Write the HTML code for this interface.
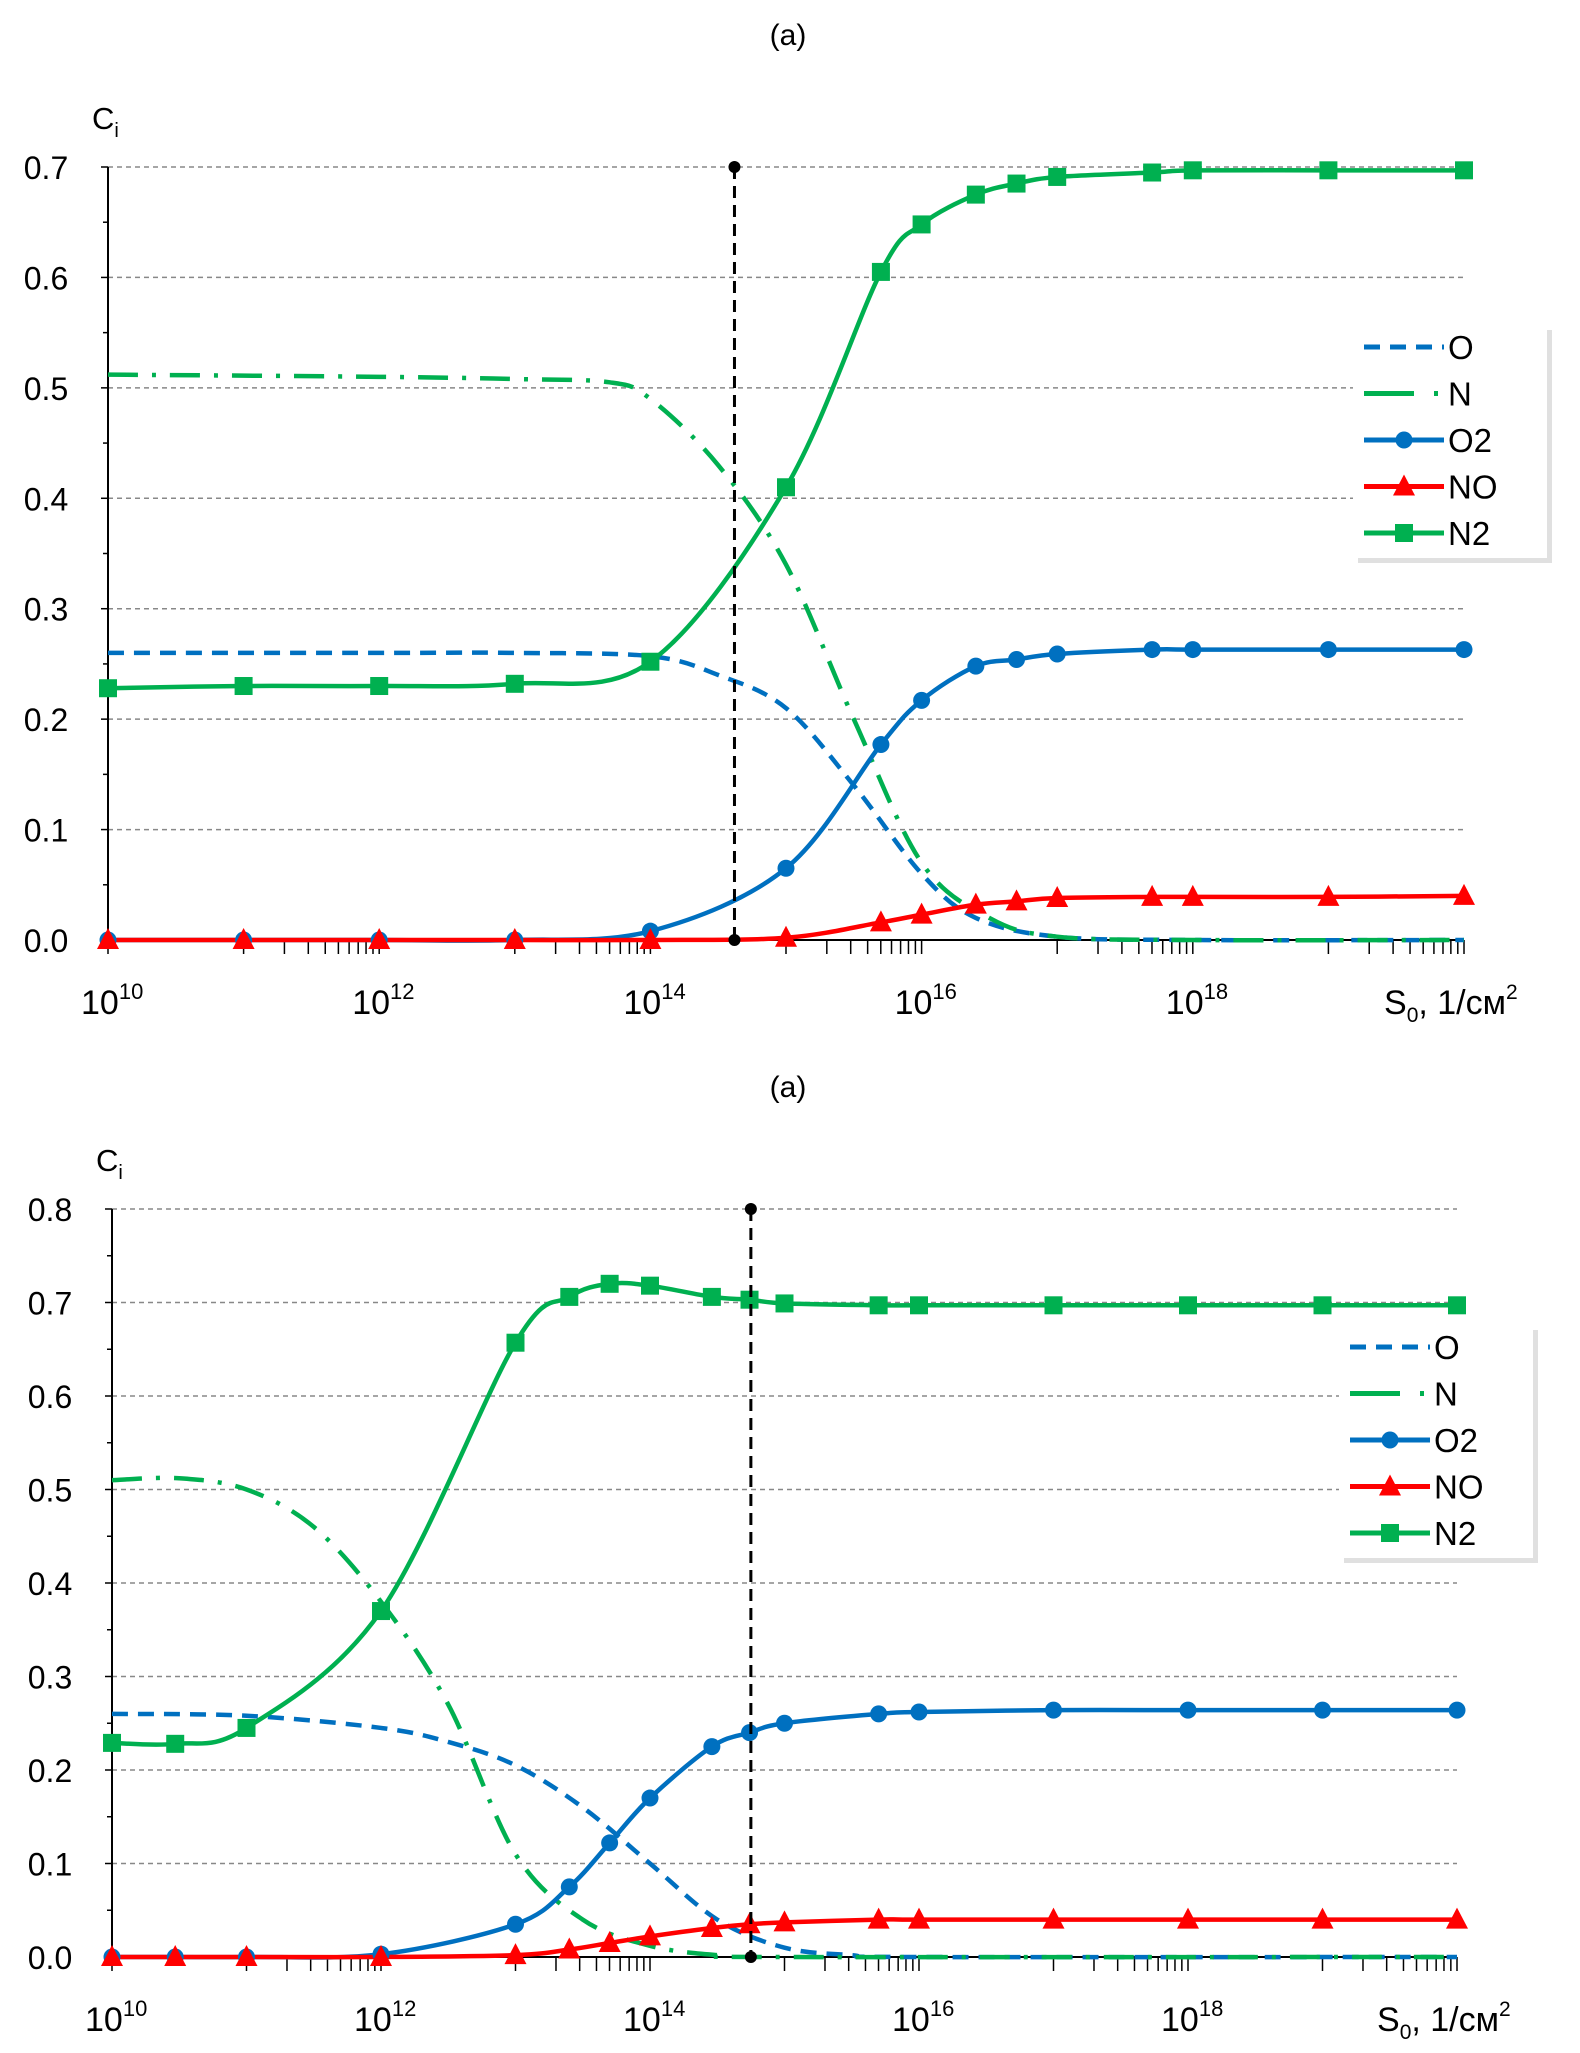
<!DOCTYPE html>
<html><head><meta charset="utf-8"><style>
body{margin:0;background:#fff}
svg{display:block;font-family:"Liberation Sans","DejaVu Sans",sans-serif}
</style></head><body>
<svg id="svg" width="1580" height="2053" viewBox="0 0 1580 2053"></svg>
<script>
// ---- Chart 1 data ----
const c1X = [10,11,12,13,14,15,15.7,16,16.4,16.7,17,17.7,18,19,20];
const c1N2 = [0.228,0.23,0.23,0.232,0.252,0.41,0.605,0.648,0.675,0.685,0.691,0.695,0.697,0.697,0.697];
const c1O2 = [0,0,0,0,0.008,0.065,0.177,0.217,0.248,0.254,0.259,0.263,0.263,0.263,0.263];
const c1NO = [0,0,0,0,0,0.002,0.016,0.023,0.032,0.035,0.038,0.039,0.039,0.039,0.04];
const c1OX = [10,12,13,14,14.5,15,15.5,16,16.4,17,18,20];
const c1O = [0.26,0.26,0.26,0.257,0.24,0.21,0.14,0.06,0.02,0.003,0,0];
const c1NX = [10,12,13,13.7,14,14.5,15,15.5,16,16.5,17,18,20];
const c1N = [0.512,0.51,0.508,0.505,0.49,0.43,0.34,0.2,0.07,0.02,0.003,0,0];
const c1Ticks = ["0.0","0.1","0.2","0.3","0.4","0.5","0.6","0.7"];
const c1Mark = 14.62;
// ---- Chart 2 data ----
const c2X = [10,10.47,11,12,13,13.4,13.7,14,14.46,14.74,15,15.7,16,17,18,19,20];
const c2N2 = [0.229,0.228,0.245,0.37,0.657,0.706,0.72,0.718,0.706,0.703,0.699,0.697,0.697,0.697,0.697,0.697,0.697];
const c2O2 = [0,0,0,0.003,0.035,0.075,0.122,0.17,0.225,0.24,0.25,0.26,0.262,0.264,0.264,0.264,0.264];
const c2NO = [0,0,0,0,0.002,0.008,0.015,0.022,0.031,0.035,0.037,0.04,0.04,0.04,0.04,0.04,0.04];
const c2OX = [10,11,12,12.5,13,13.5,14,14.5,15,15.5,16,20];
const c2O = [0.26,0.258,0.245,0.23,0.205,0.16,0.1,0.04,0.01,0.002,0,0];
const c2NX = [10,10.5,11,11.5,12,12.5,13,13.5,14,14.5,15,20];
const c2N = [0.51,0.512,0.5,0.46,0.38,0.27,0.11,0.04,0.012,0.002,0,0];
const c2Ticks = ["0.0","0.1","0.2","0.3","0.4","0.5","0.6","0.7","0.8"];
const c2Mark = 14.75;

const NS="http://www.w3.org/2000/svg";
const svg=document.getElementById('svg');
function mk(t,a,p){const e=document.createElementNS(NS,t);for(const k in a)e.setAttribute(k,a[k]);(p||svg).appendChild(e);return e;}
const BLUE="#0070C0",GREEN="#00B050",RED="#FF0000";

function path(pts){
  let d="M"+pts[0][0]+","+pts[0][1];
  for(let i=0;i<pts.length-1;i++){
    const p0=pts[i-1]||pts[i],p1=pts[i],p2=pts[i+1],p3=pts[i+2]||p2;
    const c1=[p1[0]+(p2[0]-p0[0])/6,p1[1]+(p2[1]-p0[1])/6];
    const c2=[p2[0]-(p3[0]-p1[0])/6,p2[1]-(p3[1]-p1[1])/6];
    d+=" C"+c1+" "+c2+" "+p2;
  }
  return d;
}
function marker(g,type,x,y,col){
  let e;
  if(type==='c'){e=mk('circle',{cx:x,cy:y,r:8.5,fill:col},g);}
  else if(type==='s'){e=mk('rect',{x:x-9,y:y-9,width:18,height:18,fill:col},g);}
  else {e=mk('polygon',{points:`${x},${y-12} ${x-11},${y+9} ${x+11},${y+9}`,fill:col},g);}
  return e;
}

function chart(o){
  const g=mk('g',{});
  
  
  const X=v=>o.x0+(v-10)*(o.x1-o.x0)/10;
  const Y=v=>o.y0-v*(o.y0-o.yTop)/o.ymax;
  const t=mk('text',{x:788,y:o.titleY,'font-size':30,'text-anchor':'middle',fill:'#000'},g);
  t.textContent='(a)';
  
  const yl=mk('text',{x:o.x0-16,y:o.yTop-38,'font-size':31,fill:'#000'},g);
  yl.innerHTML='C<tspan font-size="20" dy="8">i</tspan>';
  
  o.ticks.forEach((lab,i)=>{
    const v=i*0.1,y=Y(v);
    if(i>0){const gl=mk('line',{x1:o.x0,x2:o.x1,y1:y,y2:y,stroke:'#888','stroke-width':1.5,'stroke-dasharray':'5,4'},g);
      }
    mk('line',{x1:o.x0-7,x2:o.x0,y1:y,y2:y,stroke:'#000','stroke-width':1.5},g);
    const ym=Y(v+0.05);
    if(i<o.ticks.length-1) mk('line',{x1:o.x0-5,x2:o.x0,y1:ym,y2:ym,stroke:'#000','stroke-width':1.5},g);
    const tl=mk('text',{x:o.x0-62,y:y+12,'font-size':32,'text-anchor':'middle',fill:'#000'},g);
    tl.textContent=lab;
    
  });
  const ya=mk('line',{x1:o.x0,x2:o.x0,y1:o.yTop,y2:o.y0,stroke:'#000','stroke-width':2},g);
  
  const xa=mk('line',{x1:o.x0,x2:o.x1,y1:o.y0,y2:o.y0,stroke:'#000','stroke-width':2},g);
  
  for(let d=10;d<=20;d++){
    mk('line',{x1:X(d),x2:X(d),y1:o.y0,y2:o.y0+14,stroke:'#000','stroke-width':1.5},g);
    if(d%2===1) for(let m=2;m<10;m++){const xx=X(d+Math.log10(m));mk('line',{x1:xx,x2:xx,y1:o.y0,y2:o.y0+14,stroke:'#000','stroke-width':1.5},g);}
    if(d%2===0 && d<20){
      const xl=mk('text',{x:X(d)-27,y:o.y0+74,'font-size':34,fill:'#000'},g);
      xl.innerHTML='10<tspan font-size="22" dy="-15">'+d+'</tspan>';
      
    }
  }
  const xt=mk('text',{x:o.x1-80,y:o.y0+74,'font-size':34,fill:'#000'},g);
  xt.innerHTML='S<tspan font-size="21" dy="8">0</tspan><tspan dy="-8">, 1/см</tspan><tspan font-size="21" dy="-15">2</tspan>';
  
  function line(xs,vs,col,dash,name){
    const p=mk('path',{d:path(xs.map((x,i)=>[X(x),Y(vs[i])])),fill:'none',stroke:col,'stroke-width':4.5,'stroke-dasharray':dash||'none'},g);
    
  }
  line(o.OX,o.O,BLUE,'16,10','series-o-line');
  line(o.NX,o.N,GREEN,'30,14,4,14','series-n-line');
  line(o.X,o.O2,BLUE,null,'series-o2-line');
  line(o.X,o.N2,GREEN,null,'series-n2-line');
  line(o.X,o.NO,RED,null,'series-no-line');
  o.X.forEach((x,i)=>{const m=marker(g,'c',X(x),Y(o.O2[i]),BLUE);});
  o.X.forEach((x,i)=>{const m=marker(g,'s',X(x),Y(o.N2[i]),GREEN);});
  o.X.forEach((x,i)=>{const m=marker(g,'t',X(x),Y(o.NO[i]),RED);});
  const vx=X(o.mark);
  const vl=mk('line',{x1:vx,x2:vx,y1:Y(o.ymarkTop),y2:o.y0,stroke:'#000','stroke-width':3,'stroke-dasharray':'12,7'},g);
  
  mk('circle',{cx:vx,cy:Y(o.ymarkTop),r:6,fill:'#000'},g);
  mk('circle',{cx:vx,cy:o.y0,r:6,fill:'#000'},g);
  const L=o.leg;
  const lg=mk('g',{},g);
  
  mk('rect',{x:L.x+5,y:L.y+5,width:194,height:233,fill:'#ccc',opacity:0.6},lg);
  mk('rect',{x:L.x,y:L.y,width:194,height:233,fill:'#fff'},lg);
  const items=[['O',BLUE,'16,10',null],['N',GREEN,'50,20,4,20',null],['O2',BLUE,null,'c'],['NO',RED,null,'t'],['N2',GREEN,null,'s']];
  items.forEach((it,i)=>{
    const y=L.y+22+i*46.5;
    const e=mk('g',{},lg);
    
    mk('line',{x1:L.x+11,x2:L.x+91,y1:y,y2:y,stroke:it[1],'stroke-width':5,'stroke-dasharray':it[2]||'none'},e);
    if(it[3]) marker(e,it[3],L.x+51,y,it[1]);
    const tx=mk('text',{x:L.x+95,y:y+12,'font-size':33,fill:'#000'},e);
    tx.textContent=it[0];
  });
}
chart({name:'chart-top',x0:108,x1:1464,y0:940,yTop:167,ymax:0.7,titleY:45,ticks:c1Ticks,
  X:c1X,N2:c1N2,O2:c1O2,NO:c1NO,OX:c1OX,O:c1O,NX:c1NX,N:c1N,mark:c1Mark,ymarkTop:0.7,leg:{x:1353,y:325}});
chart({name:'chart-bottom',x0:112,x1:1457,y0:1957,yTop:1209,ymax:0.8,titleY:1097,ticks:c2Ticks,
  X:c2X,N2:c2N2,O2:c2O2,NO:c2NO,OX:c2OX,O:c2O,NX:c2NX,N:c2N,mark:c2Mark,ymarkTop:0.8,leg:{x:1339,y:1325}});
</script>
</body></html>
